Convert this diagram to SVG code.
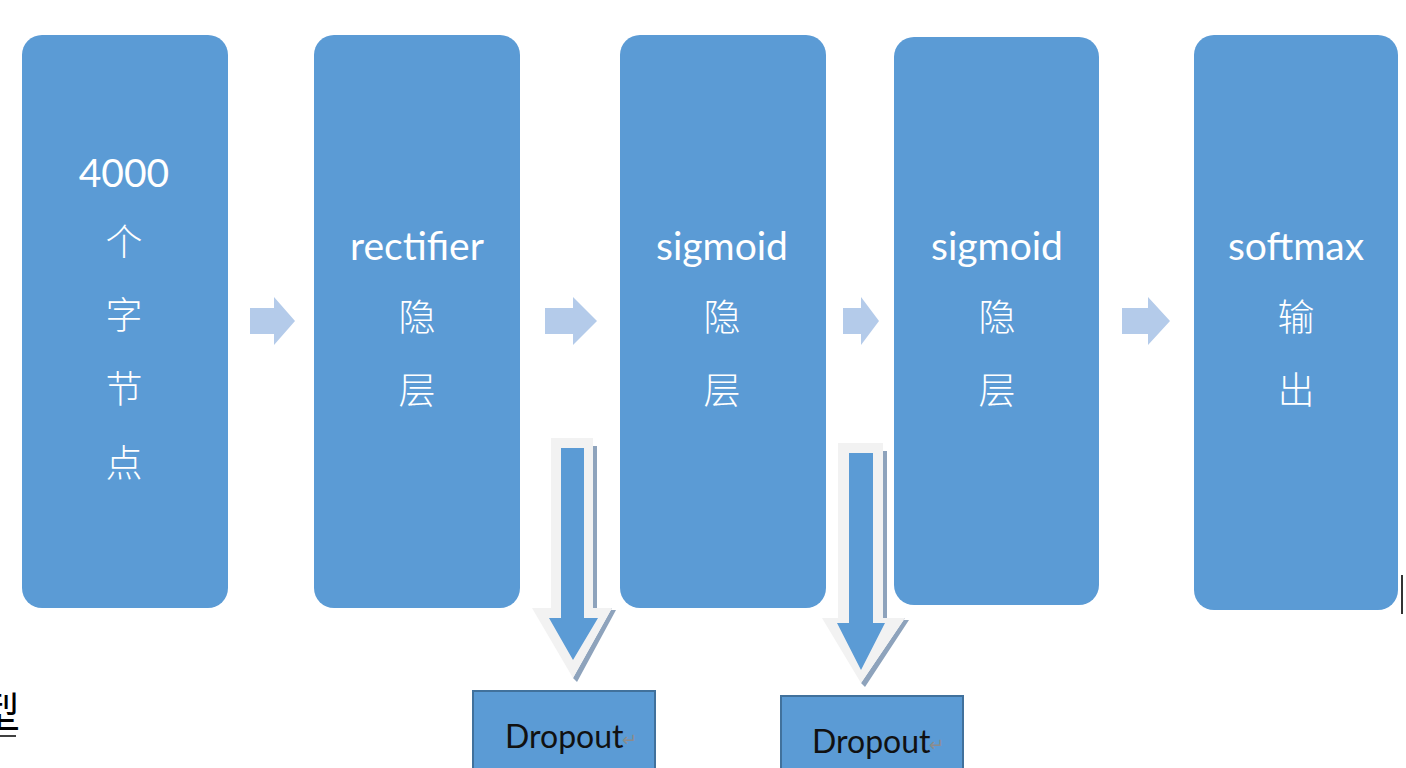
<svg xmlns="http://www.w3.org/2000/svg" width="1406" height="768" viewBox="0 0 1406 768">
<style>
.node{fill:#5B9BD5;}
.lbl{fill:#FFFFFF;font-family:Lato,"Open Sans","Noto Sans CJK SC",sans-serif;font-size:39px;text-anchor:middle;}
.cjk{fill:#FFFFFF;font-family:"Noto Sans CJK SC",sans-serif;font-size:37px;text-anchor:middle;font-weight:300;}
.rarrow{fill:#B4CBEA;}
.dout{fill:#F2F2F2;}
.dshadow{fill:#8EA3BC;}
.din{fill:#5B9BD5;}
.dbox{fill:#5B9BD5;stroke:#41719C;stroke-width:2;}
.dtxt{fill:#111111;font-family:Lato,"Open Sans",sans-serif;font-size:32px;}
.ret{fill:#8C8C8C;font-family:"DejaVu Sans",sans-serif;font-size:18px;}
</style>
<rect width="1406" height="768" fill="#FFFFFF"/>
<g id="n1"><rect class="node" x="22" y="35" width="206" height="573" rx="20"/>
<text class="lbl" x="124" y="187">4000</text>
<text class="cjk" x="124" y="256">个</text>
<text class="cjk" x="124" y="329">字</text>
<text class="cjk" x="124" y="403">节</text>
<text class="cjk" x="124" y="477">点</text></g>
<g id="n2"><rect class="node" x="314" y="35" width="206" height="573" rx="20"/>
<text class="lbl" x="417" y="260">rectifier</text>
<text class="cjk" x="417" y="331">隐</text>
<text class="cjk" x="417" y="404">层</text></g>
<g id="n3"><rect class="node" x="620" y="35" width="206" height="573" rx="20"/>
<text class="lbl" x="722" y="260">sigmoid</text>
<text class="cjk" x="722" y="331">隐</text>
<text class="cjk" x="722" y="404">层</text></g>
<g id="n4"><rect class="node" x="894" y="37" width="205" height="568" rx="20"/>
<text class="lbl" x="997" y="260">sigmoid</text>
<text class="cjk" x="997" y="331">隐</text>
<text class="cjk" x="997" y="404">层</text></g>
<g id="n5"><rect class="node" x="1194" y="35" width="204" height="575" rx="20"/>
<text class="lbl" x="1296" y="260">softmax</text>
<text class="cjk" x="1296" y="331">输</text>
<text class="cjk" x="1296" y="404">出</text></g>
<g id="d1"><rect class="dbox" x="473" y="691" width="182" height="90"/>
<text class="dtxt" x="505" y="748">Dropout</text><text class="ret" x="622" y="746">↵</text></g>
<g id="d2"><rect class="dbox" x="781" y="696" width="182" height="90"/>
<text class="dtxt" x="812" y="753">Dropout</text><text class="ret" x="929" y="751">↵</text></g>
<g id="connectors">
<polygon class="rarrow" points="250,308 274,308 274,297 295,321 274,345 274,334 250,334"/>
<polygon class="rarrow" points="545,308 573,308 573,297 597,321 573,345 573,334 545,334"/>
<polygon class="rarrow" points="843,308 861,308 861,297 879,321 861,345 861,334 843,334"/>
<polygon class="rarrow" points="1122,308 1148,308 1148,297 1170,321 1148,345 1148,334 1122,334"/>
<polygon class="dshadow" points="593,446 597,446 597,610 616,610 577,682 573,678 612,608 593,608"/>
<polygon class="dout" points="551,438 593,438 593,608 612,608 573,678 532,608 551,608"/>
<polygon class="din" points="561,448 584,448 584,618 598,618 573,660 549,618 561,618"/>
<polygon class="dshadow" points="883,451 887,451 887,620 909,620 865,687 861,683 905,618 883,618"/>
<polygon class="dout" points="838,443 883,443 883,618 905,618 861,683 822,618 838,618"/>
<polygon class="din" points="849,453 873,453 873,623 885,623 861,670 837,623 849,623"/>
</g>
<text x="-22" y="728" font-family="'Liberation Serif','Noto Sans CJK SC',serif" font-size="42" fill="#000000">型</text>
<line x1="0" y1="736" x2="16" y2="736" stroke="#000000" stroke-width="1.5"/>
<line x1="1402" y1="575" x2="1402" y2="614" stroke="#333333" stroke-width="2"/>
</svg>
